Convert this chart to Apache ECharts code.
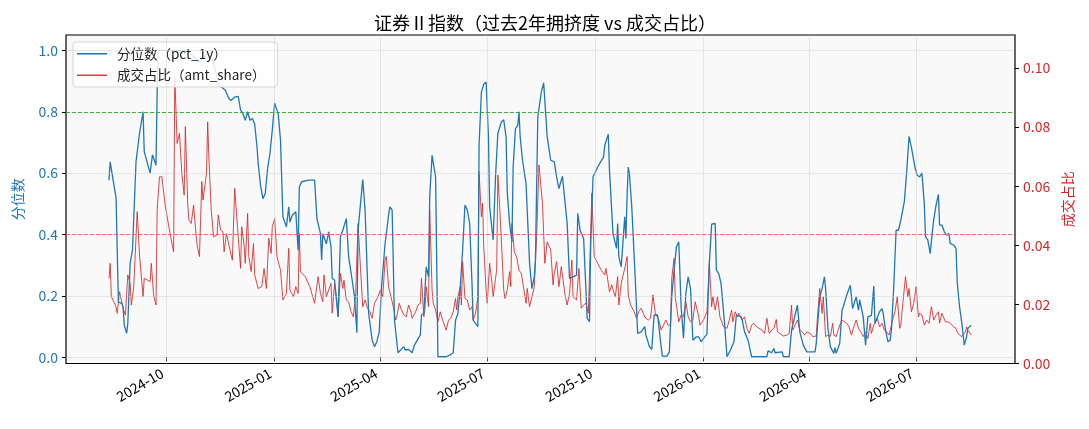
<!DOCTYPE html>
<html>
<head>
<meta charset="utf-8">
<script src="https://cdn.jsdelivr.net/npm/echarts@6/dist/echarts.min.js"></script>
<style>
  html, body { margin: 0; padding: 0; background: #fff; }
  #chart { width: 1089px; height: 429px; }
</style>
</head>
<body>
<div id="chart"></div>
<script>
// 数据：第一天为 startDate，点为 [距起始日天数, 数值]
const startDate = '2024-08-13';

const pctPoints = [
  [0,0.577],[1,0.637],[4,0.566],[6,0.52],[8,0.18],[11,0.176],[12,0.165],[13,0.105],[15,0.078],[16,0.11],
  [18,0.306],[20,0.35],[23,0.637],[26,0.73],[29,0.80],[30,0.67],[35,0.60],[37,0.66],[40,0.626],[41,0.865],
  [42,1.0],[66,1.0],[77,0.962],[84,0.989],[89,0.957],[94,0.886],[99,0.87],[102,0.843],[104,0.837],[107,0.848],
  [110,0.85],[112,0.805],[114,0.794],[116,0.772],[118,0.80],[120,0.772],[122,0.778],[124,0.76],[126,0.685],[127,0.63],
  [129,0.56],[131,0.517],[133,0.534],[135,0.615],[137,0.664],[139,0.74],[141,0.828],[144,0.794],[146,0.707],[148,0.458],
  [151,0.425],[153,0.49],[154,0.441],[156,0.463],[159,0.474],[161,0.349],[162,0.555],[164,0.572],[170,0.577],[175,0.577],
  [177,0.452],[180,0.403],[181,0.317],[182,0.403],[185,0.37],[187,0.409],[189,0.36],[190,0.257],[192,0.252],[195,0.132],
  [197,0.393],[199,0.414],[202,0.452],[204,0.327],[207,0.252],[209,0.197],[211,0.08],[212,0.414],[216,0.579],[218,0.479],
  [221,0.143],[224,0.056],[226,0.035],[228,0.051],[230,0.083],[232,0.23],[235,0.37],[238,0.463],[239,0.49],[241,0.48],
  [242,0.306],[243,0.121],[246,0.015],[251,0.035],[252,0.024],[255,0.026],[258,0.015],[260,0.04],[265,0.073],[266,0.138],
  [268,0.143],[270,0.295],[272,0.263],[273,0.523],[275,0.658],[276,0.653],[278,0.588],[280,0.002],[287,0.002],[290,0.007],
  [293,0.015],[295,0.121],[297,0.143],[299,0.23],[301,0.349],[303,0.496],[305,0.48],[307,0.436],[309,0.24],[310,0.121],
  [312,0.11],[314,0.1],[315,0.69],[317,0.864],[319,0.89],[321,0.897],[323,0.718],[324,0.49],[327,0.382],[329,0.588],
  [331,0.729],[334,0.767],[336,0.774],[338,0.718],[339,0.539],[341,0.436],[343,0.376],[344,0.62],[346,0.745],[348,0.756],
  [349,0.80],[350,0.718],[352,0.642],[355,0.566],[358,0.306],[360,0.224],[362,0.262],[363,0.317],[365,0.783],[368,0.864],
  [370,0.894],[373,0.718],[376,0.642],[379,0.637],[381,0.588],[383,0.55],[386,0.59],[388,0.512],[390,0.436],[392,0.257],
  [395,0.262],[398,0.268],[399,0.469],[401,0.414],[404,0.387],[406,0.219],[407,0.127],[409,0.116],[410,0.36],[412,0.588],
  [416,0.62],[421,0.653],[422,0.69],[425,0.727],[426,0.61],[429,0.403],[432,0.355],[433,0.436],[434,0.327],[436,0.295],
  [439,0.458],[440,0.387],[441,0.523],[442,0.62],[443,0.599],[445,0.49],[448,0.252],[450,0.078],[453,0.083],[456,0.1],
  [457,0.073],[460,0.035],[462,0.026],[464,0.138],[467,0.138],[469,0.067],[471,0.004],[475,0.004],[477,0.018],[479,0.197],
  [481,0.284],[483,0.36],[485,0.376],[487,0.165],[489,0.062],[491,0.208],[493,0.262],[495,0.224],[497,0.056],[500,0.067],
  [502,0.067],[504,0.051],[509,0.076],[511,0.306],[513,0.434],[516,0.436],[517,0.284],[519,0.273],[521,0.24],[522,0.197],
  [524,0.11],[526,0.002],[529,0.024],[532,0.051],[534,0.138],[538,0.132],[539,0.121],[541,0.083],[544,0.056],[547,0.002],
  [560,0.002],[561,0.021],[564,0.015],[566,0.029],[567,0.015],[573,0.018],[574,0.002],[579,0.002],[581,0.089],[584,0.138],
  [586,0.17],[588,0.083],[591,0.04],[594,0.018],[601,0.018],[602,0.045],[605,0.197],[607,0.224],[609,0.262],[610,0.224],
  [611,0.23],[612,0.094],[614,0.035],[617,0.013],[618,0.032],[619,0.013],[622,0.045],[624,0.154],[625,0.165],[628,0.203],
  [631,0.235],[633,0.159],[636,0.197],[638,0.154],[639,0.187],[642,0.132],[644,0.04],[646,0.132],[649,0.137],[651,0.232],
  [652,0.11],[653,0.121],[656,0.149],[658,0.159],[659,0.143],[661,0.089],[663,0.051],[665,0.056],[666,0.089],[668,0.23],
  [670,0.414],[672,0.414],[674,0.447],[677,0.507],[679,0.604],[681,0.72],[683,0.685],[686,0.62],[688,0.593],[690,0.588],
  [692,0.6],[694,0.5],[695,0.393],[697,0.382],[699,0.338],[701,0.414],[702,0.447],[704,0.496],[706,0.531],[707,0.431],
  [709,0.431],[711,0.409],[713,0.398],[715,0.403],[716,0.371],[719,0.366],[721,0.355],[722,0.246],[724,0.165],[726,0.11],
  [728,0.04],[730,0.067],[731,0.094],[734,0.105]
];

const sharePoints = [
  [0,0.0288],[1,0.0339],[2,0.0226],[4,0.021],[6,0.0192],[7,0.017],[9,0.0243],[11,0.0204],[12,0.0187],[14,0.0164],
  [16,0.030],[18,0.0271],[19,0.0198],[21,0.0254],[24,0.0514],[26,0.0367],[29,0.0226],[30,0.0288],[33,0.0282],[35,0.0277],
  [36,0.0339],[38,0.023],[40,0.0198],[41,0.052],[43,0.0632],[45,0.0632],[48,0.053],[52,0.044],[55,0.0378],[56,0.097],
  [58,0.0745],[60,0.0779],[62,0.0644],[64,0.057],[65,0.0802],[67,0.0542],[68,0.0486],[70,0.0474],[72,0.0536],[73,0.0486],
  [75,0.0401],[77,0.0362],[79,0.0616],[80,0.0553],[83,0.0644],[84,0.0818],[85,0.070],[87,0.052],[89,0.0429],[92,0.0435],
  [93,0.0503],[95,0.0452],[97,0.0446],[98,0.0378],[100,0.044],[103,0.0384],[105,0.035],[107,0.0593],[110,0.0429],[112,0.0322],
  [113,0.0463],[115,0.0401],[116,0.0339],[118,0.0508],[119,0.0362],[121,0.0311],[123,0.0406],[124,0.030],[127,0.0254],[130,0.026],
  [132,0.0322],[134,0.0254],[136,0.0424],[138,0.0373],[139,0.0463],[141,0.0491],[143,0.0362],[146,0.0316],[148,0.0215],[151,0.0237],
  [153,0.039],[154,0.0249],[157,0.0226],[159,0.026],[161,0.0237],[162,0.044],[163,0.0311],[167,0.0294],[171,0.026],[175,0.0204],
  [178,0.0294],[180,0.0237],[182,0.0209],[183,0.030],[185,0.0226],[187,0.0249],[189,0.0271],[190,0.017],[192,0.0271],[194,0.0209],
  [195,0.0158],[197,0.0305],[199,0.0254],[200,0.0282],[202,0.0215],[204,0.0209],[206,0.0176],[208,0.0158],[210,0.0237],[212,0.0474],
  [214,0.0328],[216,0.0192],[218,0.0215],[220,0.0187],[222,0.0176],[224,0.0153],[226,0.0204],[229,0.0226],[231,0.0249],[233,0.0226],
  [235,0.035],[236,0.0362],[238,0.026],[240,0.0226],[242,0.0192],[243,0.017],[244,0.0147],[245,0.0158],[247,0.0204],[249,0.0181],
  [251,0.0164],[253,0.0158],[255,0.0198],[257,0.0175],[258,0.0153],[261,0.0175],[263,0.0198],[265,0.0204],[266,0.0288],[268,0.0158],
  [269,0.0187],[270,0.026],[272,0.0192],[273,0.052],[275,0.0249],[276,0.0204],[278,0.0181],[280,0.0142],[282,0.0175],[284,0.0147],
  [287,0.0113],[289,0.0147],[291,0.0153],[293,0.0175],[295,0.022],[296,0.0181],[297,0.0226],[299,0.026],[300,0.0198],[301,0.0345],
  [303,0.022],[305,0.0215],[307,0.0181],[309,0.0192],[310,0.0147],[312,0.017],[314,0.0226],[315,0.0649],[317,0.0497],[318,0.0542],
  [319,0.0395],[321,0.0249],[322,0.0204],[324,0.0339],[326,0.0271],[327,0.0226],[329,0.0288],[330,0.0316],[331,0.0638],[333,0.0497],
  [336,0.0249],[337,0.022],[339,0.0249],[341,0.0311],[342,0.026],[343,0.0474],[345,0.0378],[347,0.0361],[349,0.0316],[351,0.0305],
  [353,0.0254],[355,0.0204],[356,0.0254],[358,0.0192],[360,0.0226],[362,0.026],[364,0.0429],[366,0.0672],[369,0.0542],[371,0.0339],
  [373,0.0412],[376,0.0384],[378,0.0266],[379,0.0305],[381,0.0345],[383,0.026],[385,0.0328],[388,0.0237],[390,0.0198],[392,0.0237],
  [394,0.035],[395,0.0226],[398,0.0215],[400,0.0322],[402,0.0187],[404,0.0198],[406,0.0204],[408,0.017],[409,0.030],[411,0.0576],
  [413,0.0362],[416,0.0339],[419,0.0316],[422,0.030],[423,0.0322],[425,0.0271],[426,0.0243],[428,0.0266],[429,0.0249],[431,0.0226],
  [433,0.0294],[434,0.0198],[436,0.0271],[440,0.0339],[441,0.0362],[442,0.0232],[444,0.0198],[447,0.0176],[449,0.0153],[451,0.0176],
  [453,0.0187],[456,0.0158],[459,0.0147],[461,0.0153],[463,0.0232],[465,0.017],[468,0.0147],[470,0.0113],[472,0.013],[474,0.0147],
  [476,0.013],[478,0.013],[479,0.0288],[481,0.0356],[482,0.0226],[485,0.0141],[487,0.0164],[489,0.0158],[491,0.0209],[493,0.0158],
  [495,0.0141],[497,0.0147],[499,0.0209],[502,0.0158],[503,0.013],[506,0.0147],[509,0.0175],[511,0.0339],[513,0.0192],[514,0.0226],
  [516,0.0181],[518,0.0226],[520,0.0158],[523,0.0125],[526,0.0119],[528,0.0147],[530,0.0181],[531,0.0141],[533,0.0175],[535,0.0158],
  [536,0.017],[539,0.0147],[541,0.0158],[543,0.0119],[545,0.0102],[547,0.013],[549,0.0136],[551,0.0125],[556,0.0113],[558,0.0102],
  [560,0.0153],[562,0.0102],[564,0.0113],[566,0.0119],[568,0.0149],[569,0.0107],[571,0.0102],[574,0.0093],[577,0.0096],[579,0.0102],
  [581,0.0198],[582,0.0113],[584,0.013],[586,0.0147],[588,0.0113],[590,0.0107],[592,0.0096],[594,0.0107],[597,0.0102],[599,0.0091],
  [602,0.0093],[603,0.0153],[605,0.0254],[607,0.017],[608,0.0226],[610,0.0091],[612,0.0096],[614,0.0091],[616,0.0136],[617,0.0096],
  [619,0.0091],[622,0.013],[624,0.0147],[626,0.0141],[628,0.0136],[630,0.0124],[632,0.0096],[634,0.0124],[636,0.0147],[638,0.0119],
  [640,0.0107],[642,0.0091],[644,0.0107],[646,0.0085],[648,0.0136],[649,0.0102],[651,0.013],[654,0.0153],[656,0.0124],[658,0.0136],
  [660,0.0113],[662,0.0107],[664,0.0096],[665,0.0102],[667,0.0147],[669,0.0175],[671,0.0226],[673,0.0119],[674,0.013],[676,0.0215],
  [678,0.0294],[680,0.0226],[681,0.0254],[683,0.0175],[685,0.0204],[687,0.026],[689,0.0158],[690,0.017],[692,0.0164],[694,0.013],
  [696,0.0147],[698,0.0136],[700,0.0192],[702,0.0147],[704,0.0164],[706,0.0175],[707,0.0136],[709,0.017],[712,0.0141],[714,0.0141],
  [716,0.0136],[719,0.0124],[721,0.0119],[722,0.0107],[724,0.0096],[726,0.0091],[729,0.0107],[730,0.0124],[731,0.0113],[734,0.0096]
];

const dateTicks = ['2024-10-01','2025-01-01','2025-04-01','2025-07-01','2025-10-01','2026-01-01','2026-04-01','2026-07-01'];
const pctTicks = [0, 0.2, 0.4, 0.6, 0.8, 1.0];
const shareTicks = [0, 0.02, 0.04, 0.06, 0.08, 0.10];
const highLevel = 0.8;
const lowLevel = 0.4;

const DAY = 86400000;
const t0 = Date.parse(startDate);
const toTime = p => [t0 + p[0] * DAY, p[1]];
const tickTimes = dateTicks.map(d => Date.parse(d));

const chart = echarts.init(document.getElementById('chart'), null, { renderer: 'canvas' });
const font = '"Noto Sans CJK SC", "DejaVu Sans", sans-serif';

const option = {
  animation: false,
  textStyle: { fontFamily: font },
  title: {
    text: '证券Ⅱ指数（过去2年拥挤度 vs 成交占比）',
    left: 540, top: 9, textAlign: 'center',
    textStyle: { fontSize: 18, fontWeight: 'normal', color: '#000', fontFamily: font }
  },
  legend: {
    orient: 'vertical', left: 73, top: 42,
    backgroundColor: 'rgba(255,255,255,0.85)',
    borderColor: '#d6d6d6', borderWidth: 1, borderRadius: 3,
    padding: [5, 12, 5, 4], itemGap: 8, itemWidth: 30, itemHeight: 1.6,
    textStyle: { fontSize: 13.5, color: '#222', fontFamily: font, padding: [0, 0, 0, 5] },
    data: [
      { name: '分位数（pct_1y）', icon: 'rect' },
      { name: '成交占比（amt_share）', icon: 'rect' }
    ]
  },
  grid: {
    left: 66, right: 74, top: 35, bottom: 65.5,
    show: true, backgroundColor: '#f9f9f9', borderColor: '#000', borderWidth: 1.2
  },
  xAxis: {
    // 用毫秒时间戳的数值轴，刻度放在每季度第一天
    type: 'value',
    min: t0 - 36.6 * DAY,
    max: t0 + 771.2 * DAY,
    axisLine: { show: false },
    splitLine: { show: false },
    axisTick: { show: true, customValues: tickTimes, length: 4, lineStyle: { color: '#000' } },
    axisLabel: {
      customValues: tickTimes, rotate: 30, margin: 6, padding: [0, 5, 0, 0],
      fontSize: 14, color: '#000', fontFamily: font,
      formatter: v => new Date(v).toISOString().slice(0, 7)
    }
  },
  yAxis: [{
    type: 'value', min: -0.02, max: 1.05,
    name: '分位数', nameLocation: 'middle', nameGap: 41, nameRotate: 90,
    nameTextStyle: { color: '#1f77b4', fontSize: 14, fontFamily: font },
    axisLine: { show: false },
    splitLine: { show: false },
    axisTick: { show: true, customValues: pctTicks, length: 4, lineStyle: { color: '#000' } },
    axisLabel: { customValues: pctTicks, margin: 8, color: '#1f77b4', fontSize: 14, fontFamily: font, formatter: v => v.toFixed(1) }
  }, {
    type: 'value', min: 0, max: 0.1112, position: 'right',
    name: '成交占比', nameLocation: 'middle', nameGap: 46, nameRotate: 90,
    nameTextStyle: { color: '#d62728', fontSize: 14, fontFamily: font },
    axisLine: { show: false },
    splitLine: { show: false },
    axisTick: { show: true, customValues: shareTicks, length: 4, lineStyle: { color: '#000' } },
    axisLabel: { customValues: shareTicks, margin: 8, color: '#d62728', fontSize: 14, fontFamily: font, formatter: v => v.toFixed(2) }
  }],
  series: [{
    // 网格线
    name: 'grid', type: 'line', data: [], z: 1, silent: true,
    markLine: {
      silent: true, symbol: 'none', animation: false,
      label: { show: false },
      lineStyle: { color: '#c8c8c8', type: 'dotted', width: 0.8 },
      data: tickTimes.map(t => ({ xAxis: t })).concat(pctTicks.map(v => ({ yAxis: v })))
    }
  }, {
    name: '分位数（pct_1y）', type: 'line', yAxisIndex: 0, z: 3,
    data: pctPoints.map(toTime),
    symbol: 'none', showSymbol: false,
    lineStyle: { color: '#1f77b4', width: 1.3 },
    itemStyle: { color: '#1f77b4' },
    markLine: {
      silent: true, symbol: 'none', animation: false,
      label: { show: false },
      data: [
        { yAxis: highLevel, lineStyle: { color: '#2ca02c', type: [4, 2], width: 1, opacity: 0.85 } },
        { yAxis: lowLevel, lineStyle: { color: '#ff3b3b', type: [4, 2], width: 1, opacity: 0.7 } }
      ]
    }
  }, {
    name: '成交占比（amt_share）', type: 'line', yAxisIndex: 1, z: 2,
    data: sharePoints.map(toTime),
    symbol: 'none', showSymbol: false,
    lineStyle: { color: '#d62728', width: 1, opacity: 0.85 },
    itemStyle: { color: '#e0474a' }
  }]
};

chart.setOption(option);
</script>
</body>
</html>
